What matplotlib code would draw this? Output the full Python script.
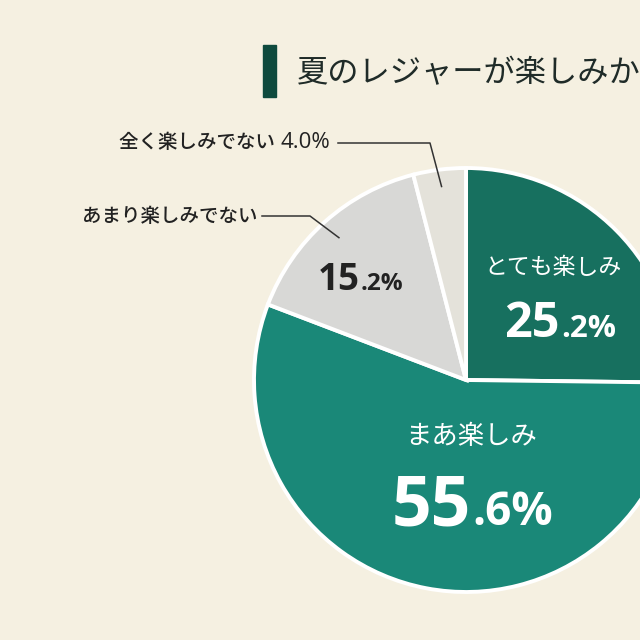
import numpy as np
import matplotlib
matplotlib.use("Agg")
import matplotlib.pyplot as plt

plt.rcParams['font.family'] = ['Noto Sans CJK JP', 'DejaVu Sans']

# ---- data ----
categories = ["とても楽しみ", "まあ楽しみ", "あまり楽しみでない", "全く楽しみでない"]
values = [25.2, 55.6, 15.2, 4.0]
colors = ["#17705f", "#1a8878", "#d8d8d6", "#e4e2da"]
title = "夏のレジャーが楽しみか"

BG = "#f5f0e1"
DARK = "#222222"
NUMFONT = ['Open Sans', 'DejaVu Sans']

W = H = 640
fig = plt.figure(figsize=(6.4, 6.4), dpi=100, facecolor=BG)
ax = fig.add_axes([0, 0, 1, 1])
ax.set_xlim(0, W)
ax.set_ylim(0, H)
ax.set_aspect('equal')
ax.axis('off')
ax.set_facecolor(BG)

def Y(y):
    return H - y

cx, cy, R = 466, Y(380), 212
wedges, _ = ax.pie(values, colors=colors, startangle=90, counterclock=False,
                   center=(cx, cy), radius=R, frame=True,
                   wedgeprops=dict(edgecolor="white", linewidth=2.8))
ax.set_xlim(0, W)
ax.set_ylim(0, H)
ax.axis('off')

# title
ax.add_patch(plt.Rectangle((263, Y(97)), 13, 52, color="#0e4a3d", clip_on=False))
ax.text(297, Y(73), title, fontsize=22.5, color="#1f2b28", va='center', ha='left')

def split_num(v):
    s = f"{v:.1f}"
    a, b = s.split(".")
    return a, "." + b + "%"

def number(x_split, y_base, v, big, small, color):
    a, b = split_num(v)
    ax.text(x_split, Y(y_base), a, fontsize=big, fontweight='bold', color=color,
            ha='right', va='baseline', family=NUMFONT)
    ax.text(x_split + 1, Y(y_base), b, fontsize=small, fontweight='bold', color=color,
            ha='left', va='baseline', family=NUMFONT)

# slice 1
ax.text(553, Y(268), categories[0], fontsize=16.5, color="white", ha='center', va='center')
number(560, 337, values[0], 35, 22.5, "white")
# slice 2
ax.text(471, Y(437), categories[1], fontsize=19, color="white", ha='center', va='center')
number(471, 525, values[1], 50, 33, "white")
# slice 3
number(360, 290, values[2], 26.5, 17.5, DARK)

# outside labels with leader lines
angles = []
start = 90.0
for v in values:
    span = v * 3.6
    angles.append(start - span / 2)
    start -= span

def point_on(idx, frac):
    a = np.deg2rad(angles[idx])
    return cx + frac * R * np.cos(a), cy + frac * R * np.sin(a)

# 全く楽しみでない
lab = ax.text(330, Y(143), f"{categories[3]} ", fontsize=14, color=DARK,
              ha='right', va='center', fontweight='medium')
t = ax.text(330, Y(143), f"{values[3]:.1f}%", fontsize=16, color=DARK,
            ha='right', va='center', family=NUMFONT, fontweight='medium')
px, py = point_on(3, 0.92)
ax.plot([338, 430, px], [Y(143), Y(143), py], color="#333333", lw=1.1)

# あまり楽しみでない
ax.text(258, Y(216), categories[2], fontsize=14, color=DARK, ha='right', va='center',
        fontweight='medium')
px, py = point_on(2, 0.90)
ax.plot([262, 310, px], [Y(216), Y(216), py], color="#333333", lw=1.1)

fig.canvas.draw()
r = fig.canvas.get_renderer()
bb = t.get_window_extent(r)
lab.set_position((bb.x0 - 1, Y(143)))

fig.savefig("out.png", dpi=100, facecolor=BG)
